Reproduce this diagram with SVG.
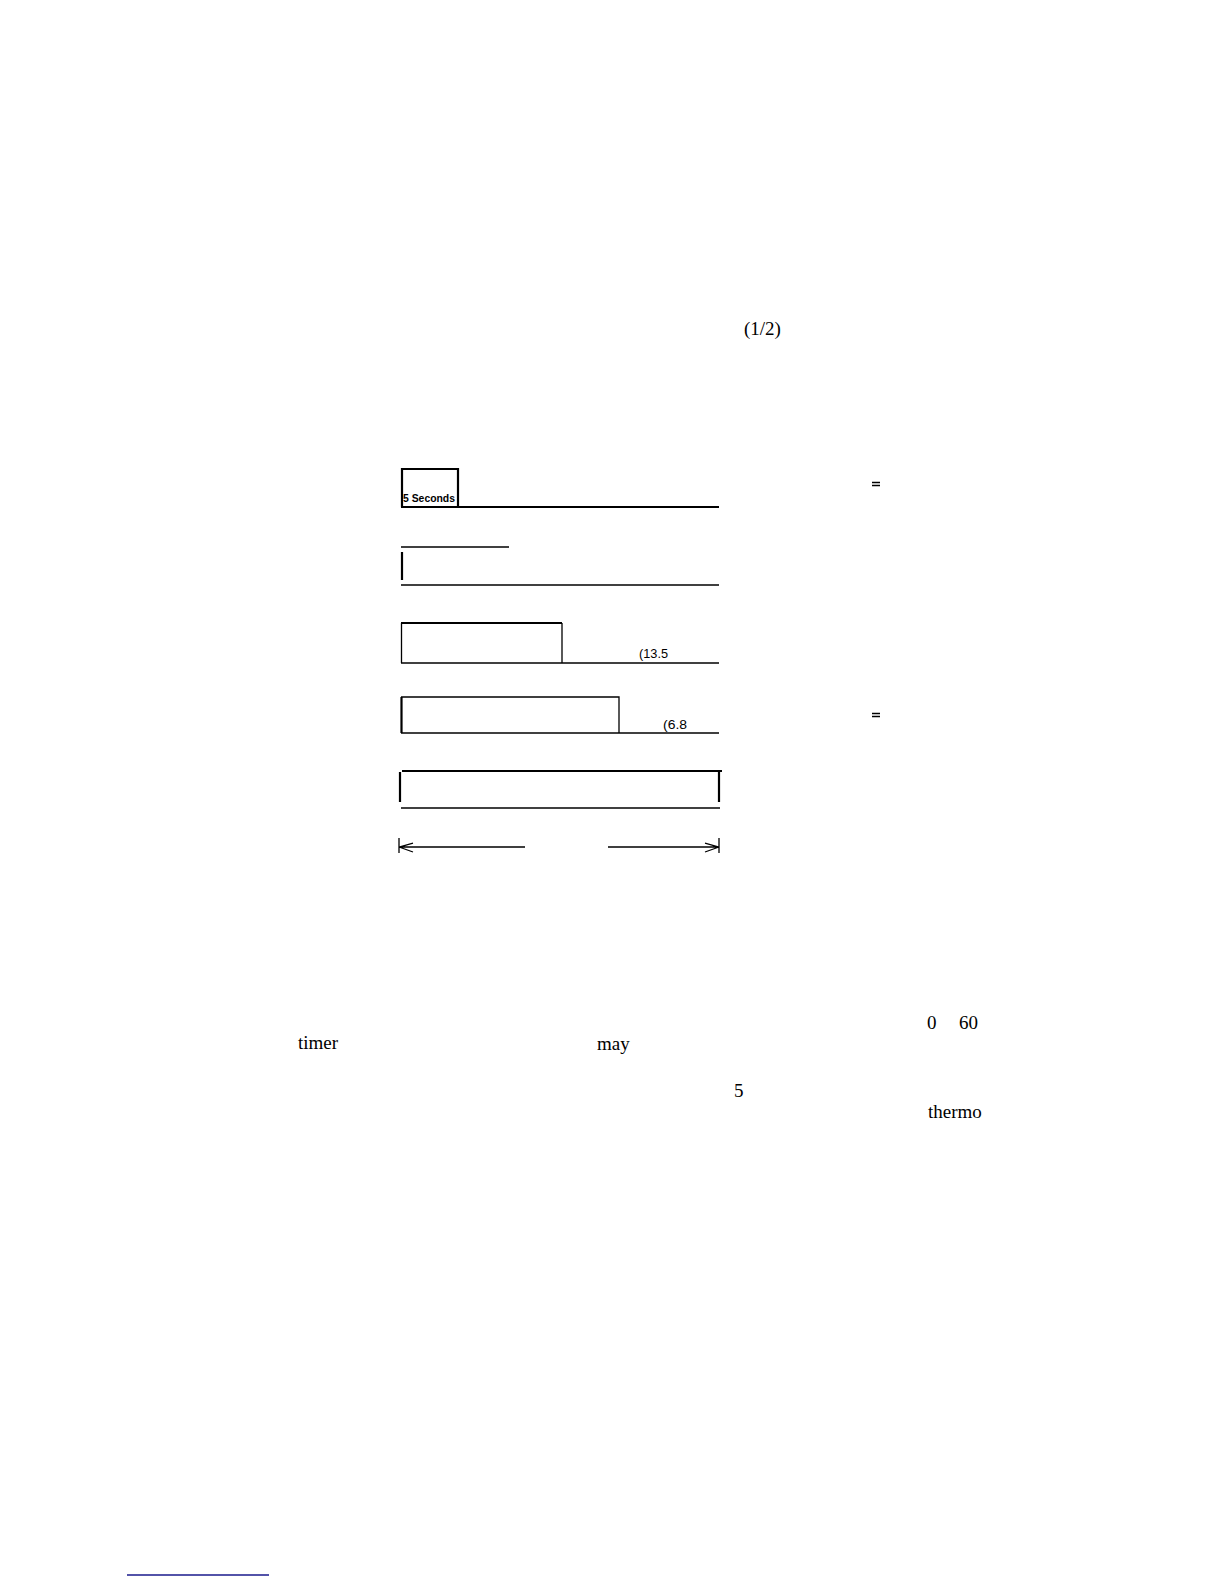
<svg xmlns="http://www.w3.org/2000/svg" width="1224" height="1584" viewBox="0 0 1224 1584">
<style>
.ln{stroke:#000;stroke-width:1.3;fill:none}
.thk{stroke:#000;stroke-width:2.2;fill:none}
.serif{font-family:"Liberation Serif","Times New Roman",serif;font-size:19px;fill:#000}
.sans{font-family:"Liberation Sans",Arial,sans-serif;fill:#000}
</style>
<rect width="1224" height="1584" fill="#fff"/>
<text class="serif" x="744" y="335" font-size="20">(1/2)</text>
<g id="row1">
<path class="thk" d="M402 469 H458 V507"/>
<path class="thk" d="M402 468 V507"/>
<path class="thk" d="M401 507 H719"/>
<text class="sans" x="403" y="502" font-size="10.5" font-weight="bold" textLength="52" lengthAdjust="spacingAndGlyphs">5 Seconds</text>
</g>
<g id="row2">
<path class="ln" d="M401 547 H509"/>
<path class="thk" d="M402 552 V580"/>
<path class="ln" d="M401 585 H719"/>
</g>
<g id="row3">
<path class="thk" d="M401 623 H562"/>
<path class="ln" d="M401.5 623 V663 M562 623 V663"/>
<path class="ln" d="M401 663 H719"/>
<text class="sans" x="639" y="658" font-size="13" textLength="29" lengthAdjust="spacingAndGlyphs">(13.5</text>
</g>
<g id="row4">
<path class="ln" d="M401 697 H619 V733"/>
<path class="thk" d="M401.5 697 V733"/>
<path class="ln" d="M401 733 H719"/>
<text class="sans" x="663" y="729" font-size="13" textLength="24" lengthAdjust="spacingAndGlyphs">(6.8</text>
</g>
<g id="row5">
<path class="thk" d="M402 771 H722"/>
<path class="thk" d="M400 772 V802 M719 772 V802"/>
<path class="ln" d="M401 808 H720"/>
</g>
<g id="connectors">
<path class="ln" d="M399 838 V853 M399 847 H525 M399 847 L413 843 M399 847 L413 852"/>
<path class="ln" d="M719 838 V853 M608 847 H719 M719 847 L705 843 M719 847 L705 852"/>
</g>
<g id="equals">
<path class="ln" d="M872 482.5 H880 M872 485.5 H880"/>
<path class="ln" d="M872 713.5 H880 M872 716.5 H880"/>
</g>
<text class="serif" x="927" y="1029">0</text>
<text class="serif" x="959" y="1029">60</text>
<text class="serif" x="298" y="1049">timer</text>
<text class="serif" x="597" y="1050">may</text>
<text class="serif" x="734" y="1097">5</text>
<text class="serif" x="928" y="1118">thermo</text>
<path d="M127 1575 H269" stroke="#1a1a8c" stroke-width="1.6"/>
</svg>
